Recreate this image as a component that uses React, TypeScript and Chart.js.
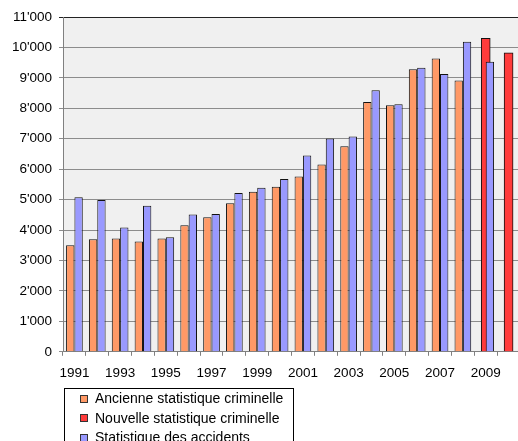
import React, { useEffect, useRef } from "react";
import { Chart, registerables } from "chart.js";

Chart.register(...registerables);

const years = [
  "1991", "1992", "1993", "1994", "1995", "1996", "1997", "1998", "1999", "2000",
  "2001", "2002", "2003", "2004", "2005", "2006", "2007", "2008", "2009", "2010",
];

const ancienne = [
  3500, 3700, 3720, 3620, 3720, 4160, 4420, 4880, 5260, 5420,
  5760, 6150, 6750, 8210, 8100, 9280, 9640, 8910, null, null,
];

const nouvelle = [
  null, null, null, null, null, null, null, null, null, null,
  null, null, null, null, null, null, null, null, 10300, 9820,
];

const accidents = [
  5080, 4990, 4080, 4800, 3760, 4510, 4530, 5220, 5390, 5680,
  6450, 7010, 7070, 8590, 8130, 9330, 9130, 10190, 9530, null,
];

const legendLabels = [
  "Ancienne statistique criminelle",
  "Nouvelle statistique criminelle",
  "Statistique des accidents",
];

const colors = ["#FF9966", "#FF3B3B", "#9999FF"];

const FONT = "'Liberation Sans', Arial, sans-serif";

function fmt(v: number): string {
  return String(Math.round(v)).replace(/\B(?=(\d{3})+(?!\d))/g, "'");
}

const plotBg = {
  id: "plotBg",
  beforeDraw(chart: any) {
    const { ctx, chartArea } = chart;
    ctx.save();
    ctx.fillStyle = "#F0F0F0";
    ctx.fillRect(chartArea.left, chartArea.top, chartArea.right - chartArea.left, chartArea.bottom - chartArea.top);
    ctx.restore();
  },
};

export default function App() {
  const ref = useRef<HTMLCanvasElement | null>(null);

  useEffect(() => {
    if (!ref.current) return;
    const chart = new Chart(ref.current, {
      type: "bar",
      data: {
        labels: years,
        datasets: [
          {
            label: legendLabels[0],
            data: ancienne,
            backgroundColor: colors[0],
            borderColor: "#111",
            borderWidth: 1,
            order: 0,
            categoryPercentage: 0.73,
            barPercentage: 1,
          },
          {
            label: legendLabels[2],
            data: accidents,
            backgroundColor: colors[2],
            borderColor: "#111",
            borderWidth: 1,
            order: 1,
            categoryPercentage: 0.73,
            barPercentage: 1,
          },
          {
            label: legendLabels[1],
            data: nouvelle,
            backgroundColor: colors[1],
            borderColor: "#111",
            borderWidth: 1,
            order: 2,
            grouped: false,
            barThickness: 9,
          },
        ] as any,
      },
      options: {
        animation: false,
        responsive: false,
        maintainAspectRatio: false,
        layout: { padding: { top: 17, left: 0, right: 0, bottom: 0 } },
        plugins: {
          legend: { display: false },
          tooltip: { enabled: false },
        },
        scales: {
          x: {
            offset: true,
            grid: {
              offset: true,
              drawOnChartArea: false,
              drawTicks: true,
              tickLength: 4,
              color: "#808080",
            },
            border: { color: "#808080" },
            ticks: {
              autoSkip: false,
              maxRotation: 0,
              minRotation: 0,
              padding: 9,
              color: "#000",
              font: { family: FONT, size: 13.5 },
              callback: (_v: any, i: number) => (i % 2 === 0 ? years[i] : ""),
            },
          },
          y: {
            min: 0,
            max: 11000,
            afterFit: (scale: any) => {
              scale.width = 63;
            },
            grid: {
              color: (c: any) => (c.tick && c.tick.value === 11000 ? "#222" : "#8C8C8C"),
              tickLength: 4,
            },
            border: { color: "#808080" },
            ticks: {
              stepSize: 1000,
              padding: 7,
              color: "#000",
              font: { family: FONT, size: 13.5 },
              callback: (v: any) => fmt(Number(v)),
            },
          },
        },
      } as any,
      plugins: [plotBg],
    });
    return () => chart.destroy();
  }, []);

  return (
    <div
      style={{
        position: "fixed",
        left: 0,
        top: 0,
        width: 518,
        height: 441,
        overflow: "hidden",
        background: "#fff",
      }}
    >
      <canvas
        ref={ref}
        width={520}
        height={390}
        style={{ position: "absolute", left: 0, top: 0, width: 520, height: 390 }}
      />
      <div
        style={{
          position: "absolute",
          left: 64,
          top: 388,
          width: 228,
          height: 70,
          border: "1px solid #000",
          fontFamily: FONT,
          fontSize: 14,
          color: "#000",
          lineHeight: "19.5px",
        }}
      >
        {legendLabels.map((l, i) => (
          <div key={l} style={{ display: "flex", alignItems: "center", height: 19.5 }}>
            <span
              style={{
                display: "inline-block",
                width: 6,
                height: 6,
                marginLeft: 15,
                marginRight: 7,
                background: colors[i],
                border: "1px solid #333",
              }}
            />
            <span>{l}</span>
          </div>
        ))}
      </div>
    </div>
  );
}
